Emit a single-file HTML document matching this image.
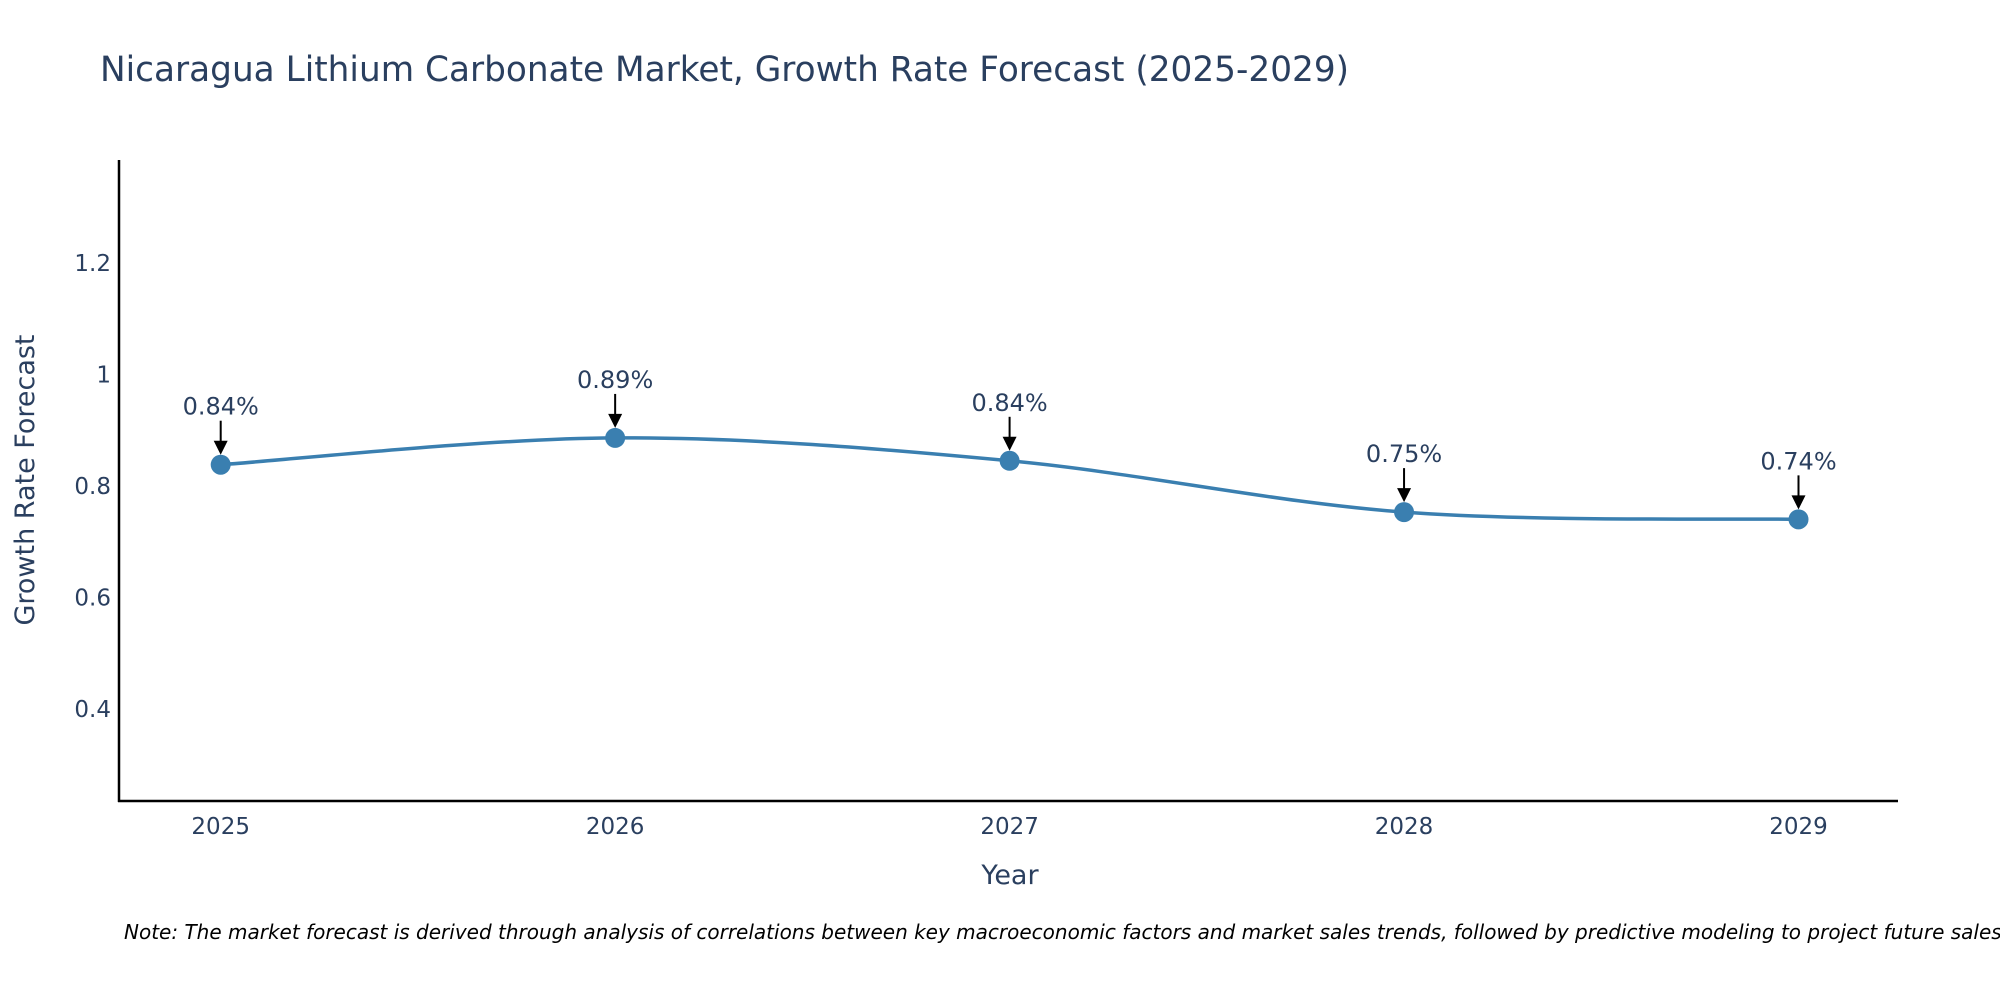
<!DOCTYPE html>
<html><head><meta charset="utf-8"><style>
body{margin:0;background:#fff;}
svg text{font-family:"DejaVu Sans","Liberation Sans",sans-serif;fill:#2a3f5f;}
</style></head><body>
<svg id="chart" width="2000" height="1000" viewBox="0 0 2000 1000" xmlns="http://www.w3.org/2000/svg">
<text x="100" y="81" font-size="34.3">Nicaragua Lithium Carbonate Market, Growth Rate Forecast (2025-2029)</text>
<g id="yticks"></g>
<g id="xticks"></g>
<path id="line" fill="none" stroke="#3a7fb0" stroke-width="3.5"></path>
<g id="marks"></g>
<g id="ann"></g>
<line x1="119" y1="160" x2="119" y2="802" stroke="#000" stroke-width="2.5"/>
<line x1="118" y1="801" x2="1898" y2="801" stroke="#000" stroke-width="2.5"/>
<text x="1010" y="884" font-size="27" text-anchor="middle">Year</text>
<text transform="translate(34,480) rotate(-90)" font-size="27" text-anchor="middle">Growth Rate Forecast</text>
<text x="124" y="939" font-size="20" font-style="italic" style="fill:#000">Note: The market forecast is derived through analysis of correlations between key macroeconomic factors and market sales trends, followed by predictive modeling to project future sales.</text>
</svg>
<script>
const years = [2025, 2026, 2027, 2028, 2029];
const values = [0.838, 0.886, 0.845, 0.753, 0.740];
const labels = ["0.84%", "0.89%", "0.84%", "0.75%", "0.74%"];
const yTicks = [0.4, 0.6, 0.8, 1, 1.2];
const yTickLabels = ["0.4", "0.6", "0.8", "1", "1.2"];

const NS = "http://www.w3.org/2000/svg";
const xs = v => 220.7 + (v - 2025) * (1798.5 - 220.7) / 4;
const ys = v => 709 - (v - 0.4) * (709 - 262.8) / 0.8;
function mk(tag, attrs, parent, txt){const e=document.createElementNS(NS,tag);for(const k in attrs)e.setAttribute(k,attrs[k]);if(txt!==undefined)e.textContent=txt;parent.appendChild(e);return e;}

const yg=document.getElementById('yticks');
yTicks.forEach((t,i)=>{const e=mk('text',{x:111,y:ys(t)+8,'font-size':23,'text-anchor':'end'},yg,yTickLabels[i]);

});
const xg=document.getElementById('xticks');
years.forEach(y=>{const e=mk('text',{x:xs(y),y:834,'font-size':23,'text-anchor':'middle'},xg,String(y));

});

const pts=years.map((y,i)=>[xs(y),ys(values[i])]);
let d=`M${pts[0][0]},${pts[0][1]}`;
const s=1/6;
for(let i=0;i<pts.length-1;i++){
  const p0=pts[Math.max(0,i-1)],p1=pts[i],p2=pts[i+1],p3=pts[Math.min(pts.length-1,i+2)];
  const c1=[p1[0]+(p2[0]-p0[0])*s,p1[1]+(p2[1]-p0[1])*s];
  const c2=[p2[0]-(p3[0]-p1[0])*s,p2[1]-(p3[1]-p1[1])*s];
  d+=` C${c1[0]},${c1[1]} ${c2[0]},${c2[1]} ${p2[0]},${p2[1]}`;
}
document.getElementById('line').setAttribute('d',d);

const mg=document.getElementById('marks'), ag=document.getElementById('ann');
pts.forEach((p,i)=>{
  const c=mk('circle',{cx:p[0],cy:p[1],r:10,fill:'#3a7fb0'},mg);
  
  
  const l=mk('line',{x1:p[0],y1:p[1]-44,x2:p[0],y2:p[1]-22,stroke:'#000','stroke-width':2},ag);
  
  
  const h=mk('path',{d:`M${p[0]-7},${p[1]-24} L${p[0]+7},${p[1]-24} L${p[0]},${p[1]-10} Z`,fill:'#000'},ag);
  
  
  const t=mk('text',{x:p[0],y:p[1]-50,'font-size':24,'text-anchor':'middle'},ag,labels[i]);
  
  
});
</script>
</body></html>
